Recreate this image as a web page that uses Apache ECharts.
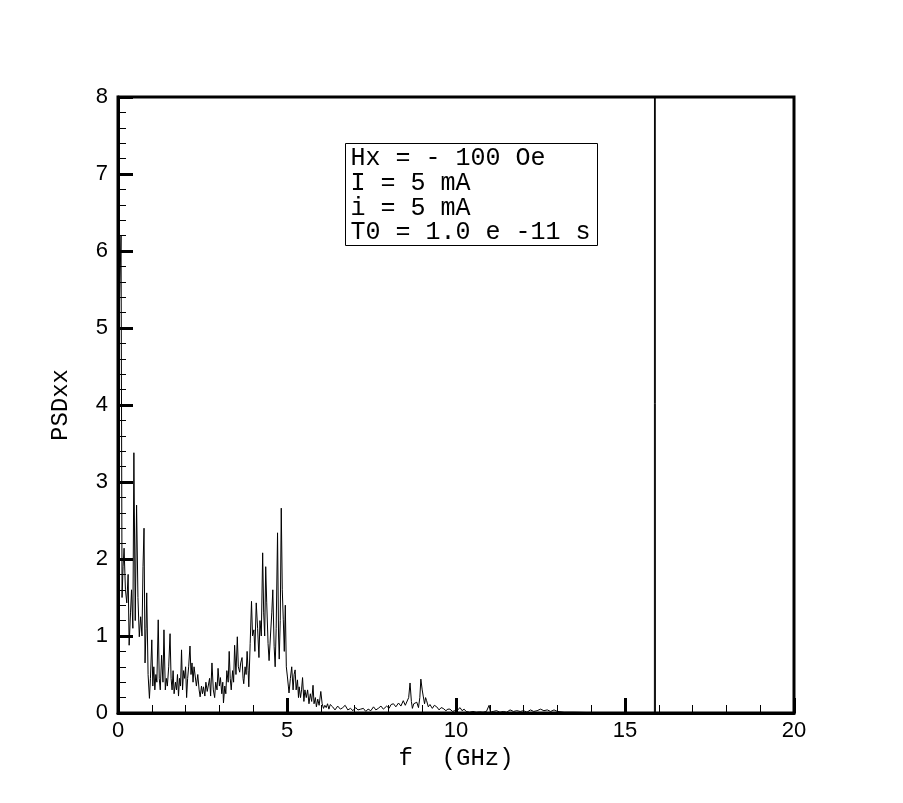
<!DOCTYPE html>
<html>
<head>
<meta charset="utf-8">
<script src="https://cdn.jsdelivr.net/npm/echarts@6/dist/echarts.min.js"></script>
<style>
html,body{margin:0;padding:0;background:#fff;}
#chart{width:903px;height:803px;}
</style>
</head>
<body>
<div id="chart"></div>
<script>
// ---- data ----
const freqLow = [0,0.09,0.12,0.15,0.18,0.22,0.26,0.30,0.33,0.37,0.40,0.44,0.47,0.51,0.55,0.59,0.63,0.67,0.71,0.74,0.77,0.80,0.83,0.85,0.89,0.93,0.96,1.00,1.03,1.06,1.09,1.12,1.15,1.19,1.22,1.25,1.29,1.33,1.36,1.40];
const psdLow  = [4.5,6.2,1.5,1.9,2.14,1.6,1.43,1.8,0.88,1.3,1.6,1.1,3.38,1.2,2.7,1.5,0.99,1.25,1.0,1.9,2.4,0.65,1.1,1.56,0.5,0.19,0.45,0.95,0.35,0.6,0.3,0.5,0.4,1.21,0.45,0.3,0.75,0.4,1.08,0.3];

const freqMid = [1.43,1.46,1.50,1.54,1.57,1.60,1.63,1.66,1.70,1.73,1.76,1.79,1.82,1.85,1.88,1.91,1.94,1.97,2.00,2.03,2.06,2.09,2.13,2.16,2.19,2.22,2.25,2.28,2.32,2.36,2.40,2.43,2.47,2.50,2.53,2.57,2.60,2.64,2.68,2.71,2.74,2.78,2.82,2.86,2.89,2.93,2.96,3.00,3.03,3.07,3.10,3.12,3.16,3.19,3.22,3.26,3.29,3.32,3.35,3.39,3.42,3.45,3.49,3.53,3.56,3.60,3.63,3.67,3.70,3.72,3.76,3.79,3.82,3.85,3.87,3.91,3.95,3.98,4.02,4.05,4.09,4.13,4.17,4.20,4.24,4.28,4.31,4.34,4.37,4.40,4.44,4.47,4.51,4.55,4.58,4.62,4.65,4.68,4.72,4.75,4.77,4.80,4.83,4.86,4.89,4.92,4.95,4.98,5.01,5.04,5.06,5.10,5.14,5.18,5.21,5.24,5.27,5.31,5.34,5.36,5.40,5.43,5.46,5.50,5.53,5.57,5.61,5.65,5.69,5.73,5.77,5.80,5.84,5.87,5.91,5.95,6.00,6.04,6.08,6.12,6.16,6.20,6.24,6.28];
const psdMid  = [0.45,0.35,0.6,1.03,0.45,0.3,0.55,0.25,0.4,0.3,0.5,0.22,0.45,0.35,0.82,0.3,0.55,0.45,0.6,0.2,0.45,0.6,0.87,0.5,0.65,0.4,0.6,0.58,0.35,0.5,0.3,0.21,0.35,0.25,0.34,0.22,0.4,0.28,0.3,0.45,0.22,0.65,0.3,0.2,0.4,0.3,0.58,0.35,0.46,0.25,0.4,0.13,0.35,0.25,0.55,0.4,0.8,0.45,0.3,0.55,0.4,0.88,0.5,0.99,0.6,0.53,0.65,0.72,0.45,0.38,0.6,0.5,0.8,0.55,0.34,0.9,1.45,1.0,1.08,0.8,1.43,1.1,0.72,1.2,1.0,2.08,1.3,1.0,1.9,1.43,0.9,0.68,1.0,1.3,1.6,0.86,0.6,1.1,2.34,1.0,0.7,1.2,2.66,1.6,1.21,0.8,1.4,0.6,0.48,0.35,0.26,0.45,0.6,0.3,0.5,0.56,0.3,0.43,0.2,0.34,0.2,0.3,0.46,0.15,0.3,0.2,0.3,0.12,0.25,0.15,0.36,0.12,0.2,0.08,0.18,0.1,0.28,0.12,0.06,0.1,0.07,0.12,0.05,0.11];

const freqTail = [6.35,6.42,6.50,6.58,6.65,6.72,6.80,6.88,6.95,7.03,7.10,7.18,7.26,7.33,7.40,7.48,7.56,7.63,7.70,7.78,7.85,7.95,8.02,8.08,8.15,8.22,8.30,8.37,8.44,8.50,8.54,8.60,8.64,8.68,8.71,8.75,8.79,8.84,8.89,8.93,8.96,9.00,9.03,9.07,9.10,9.13,9.18,9.23,9.30,9.36,9.43,9.50,9.56,9.62,9.70,9.76,9.82,9.90,9.96,10.05,10.12,10.18,10.24,10.30,10.40,10.50,10.60,10.70,10.80,10.90,10.98,11.02,11.10,11.20,11.30,11.40,11.50,11.60,11.70,11.80,11.90,12.00,12.10,12.20,12.30,12.40,12.50,12.60,12.70,12.80,12.90,13.00,13.20,13.50,14.00,14.50,15.00,15.50,15.87,15.88,15.90,16.50,17.00,18.00,19.00,20.00];
const psdTail  = [0.08,0.04,0.09,0.05,0.07,0.1,0.04,0.06,0.03,0.07,0.04,0.05,0.06,0.02,0.05,0.03,0.08,0.04,0.06,0.09,0.05,0.09,0.06,0.11,0.12,0.08,0.13,0.09,0.16,0.1,0.12,0.2,0.39,0.15,0.06,0.12,0.1,0.14,0.07,0.2,0.44,0.3,0.22,0.12,0.2,0.16,0.08,0.11,0.06,0.1,0.08,0.04,0.07,0.06,0.03,0.05,0.05,0.02,0.03,0.04,0.07,0.03,0.05,0.02,0.01,0.02,0.01,0.015,0.01,0.02,0.1,0.01,0.02,0.03,0.01,0.02,0.01,0.04,0.02,0.03,0.02,0.03,0.01,0.04,0.02,0.03,0.05,0.03,0.04,0.02,0.04,0.02,0.01,0.01,0.005,0.005,0.005,0.005,0.005,40,0.005,0.005,0.005,0.003,0.003,0.003];

const legendLines = ['Hx = - 100 Oe','I = 5 mA','i = 5 mA','T0 = 1.0 e -11 s'];
const xTitle = 'f  (GHz)';
const yTitle = 'PSDxx';

// ---- build ----
const freq = freqLow.concat(freqMid, freqTail);
const psd = psdLow.concat(psdMid, psdTail);
const seriesData = freq.map((f, i) => [f, psd[i]]);

const chart = echarts.init(document.getElementById('chart'), null, {renderer: 'canvas'});
const axisCommon = {
  axisLine: {show: true, onZero: false, lineStyle: {color: '#000', width: 3}},
  axisTick: {show: true, inside: true, length: 15, lineStyle: {color: '#000', width: 3}},
  minorTick: {show: true, splitNumber: 5, length: 8, lineStyle: {color: '#000', width: 1}},
  splitLine: {show: false},
  axisLabel: {color: '#000', fontFamily: 'Liberation Sans', fontSize: 22},
  nameTextStyle: {color: '#000', fontFamily: 'Liberation Mono', fontSize: 24}
};
chart.setOption({
  animation: false,
  backgroundColor: '#fff',
  grid: {left: 118, right: 109, top: 97, bottom: 90, show: true, borderColor: '#000', borderWidth: 3, backgroundColor: 'transparent'},
  xAxis: Object.assign({}, axisCommon, {
    type: 'value', min: 0, max: 20, interval: 5,
    name: xTitle, nameLocation: 'middle', nameGap: 32,
    axisLabel: Object.assign({}, axisCommon.axisLabel, {margin: 7})
  }),
  yAxis: Object.assign({}, axisCommon, {
    type: 'value', min: 0, max: 8, interval: 1,
    name: yTitle, nameLocation: 'middle', nameGap: 45, nameRotate: 90,
    axisLabel: Object.assign({}, axisCommon.axisLabel, {margin: 10})
  }),
  series: [{
    type: 'line', data: seriesData, showSymbol: false, clip: true,
    lineStyle: {color: '#000', width: 1}, silent: true
  }],
  graphic: [{
    type: 'group', left: 345, top: 143,
    children: [
      {type: 'rect', shape: {x: 0, y: 0, width: 252, height: 102}, style: {fill: '#fff', stroke: '#000', lineWidth: 1}},
      {type: 'text', x: 5, y: 3, style: {text: legendLines.join('\n'), fontFamily: 'Liberation Mono', fontSize: 25, lineHeight: 24.6, fill: '#000'}}
    ]
  }]
});
</script>
</body>
</html>
